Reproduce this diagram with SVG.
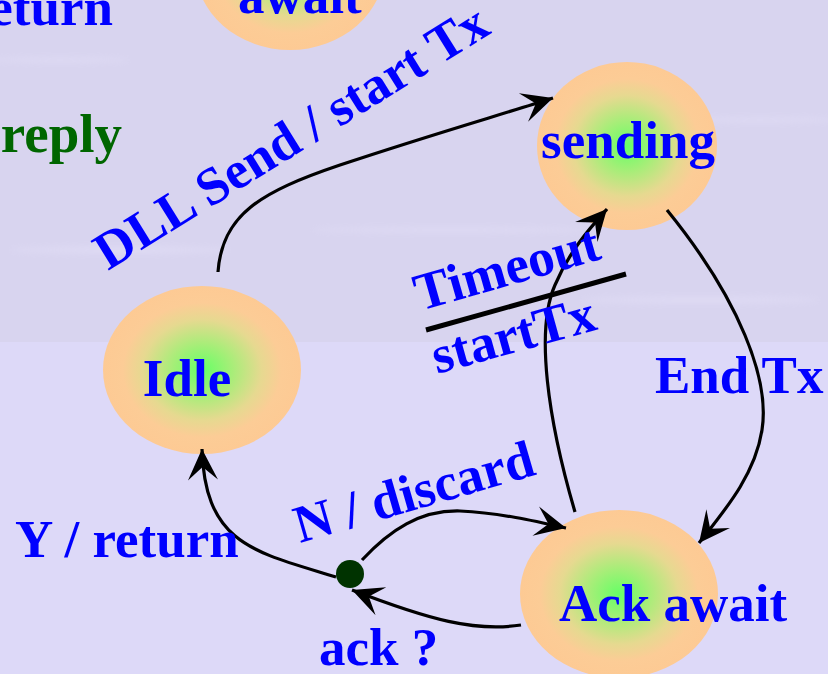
<svg xmlns="http://www.w3.org/2000/svg" width="828" height="674" viewBox="0 0 828 674">
<style>
.lbl{font-family:"Liberation Serif","Times New Roman",serif;font-weight:bold;font-size:53px;fill:#0000ff}
.grn{fill:#006600;font-size:55px}
.edge{fill:none;stroke:#000;stroke-width:3.2}
.state{fill:url(#nodeGrad)}
</style>
<defs>
<radialGradient id="nodeGrad" cx="0.5" cy="0.5" r="0.5">
<stop offset="0" stop-color="#66ff66"/>
<stop offset="0.3" stop-color="#a6ee78"/>
<stop offset="0.6" stop-color="#e6d990"/>
<stop offset="0.8" stop-color="#fccc96"/>
<stop offset="1" stop-color="#fdca94"/>
</radialGradient>
<marker id="arr" viewBox="-34 -18 36 36" refX="0" refY="0" markerWidth="36" markerHeight="36" markerUnits="userSpaceOnUse" orient="auto">
<path d="M0,0 L-31,-15 L-18,0 L-31,15 Z" fill="#000"/>
</marker>
<filter id="soft" x="-10%" y="-50%" width="120%" height="200%"><feGaussianBlur stdDeviation="3"/></filter>
</defs>
<rect x="0" y="0" width="828" height="674" fill="#ddd9f8"/>
<rect x="0" y="0" width="828" height="342" fill="#d8d4ef"/>
<g opacity="0.25" filter="url(#soft)" fill="#eeeaff">
<ellipse cx="120" cy="250" rx="110" ry="4"/>
<ellipse cx="700" cy="300" rx="120" ry="4"/>
<ellipse cx="450" cy="230" rx="140" ry="3"/>
<ellipse cx="760" cy="120" rx="80" ry="3"/>
<ellipse cx="60" cy="60" rx="70" ry="3"/>
</g>

<g id="node-top">
<ellipse class="state" cx="290" cy="-34" rx="95" ry="84"/>
<text class="lbl" x="238" y="13">await</text>
</g>
<g id="label-top-return"><text class="lbl" x="113" y="25" text-anchor="end">eturn</text></g>
<g id="label-reply"><text class="lbl grn" x="122" y="152" text-anchor="end">reply</text></g>

<g id="node-sending">
<ellipse class="state" cx="627" cy="146" rx="90" ry="84"/>
<text class="lbl" x="628" y="158" text-anchor="middle">sending</text>
</g>
<g id="node-idle">
<ellipse class="state" cx="202" cy="370" rx="99" ry="84"/>
<text class="lbl" x="187" y="396" text-anchor="middle">Idle</text>
</g>
<g id="node-ack">
<ellipse class="state" cx="619" cy="594" rx="99" ry="84"/>
<text class="lbl" x="673" y="621" text-anchor="middle">Ack await</text>
</g>
<g id="node-choice">
<circle cx="350" cy="574" r="14" fill="#003300"/>
</g>

<g id="connectors">
<path class="edge" marker-end="url(#arr)" d="M218,272 C222,215 260,192 340,165 C430,135 500,115 553,98"/>
<path class="edge" marker-end="url(#arr)" d="M667,210 C740,300 770,380 762,430 C755,475 725,510 699,543"/>
<path class="edge" marker-end="url(#arr)" d="M575,512 C548,420 535,330 555,285 C570,250 590,228 607,209"/>
<path class="edge" marker-end="url(#arr)" d="M362,560 C390,530 420,510 460,511 C500,513 535,521 566,528"/>
<path class="edge" marker-end="url(#arr)" d="M521,625 C475,632 430,620 352,590"/>
<path class="edge" marker-end="url(#arr)" d="M336,577 C255,552 205,545 202,449"/>
<line x1="426" y1="330" x2="626" y2="274" stroke="#000" stroke-width="5"/>
</g>

<g id="edge-labels">
<text class="lbl" transform="translate(108,271) rotate(-31.8)">DLL Send / start Tx</text>
<text class="lbl" transform="translate(420,311) rotate(-16)">Timeout</text>
<text class="lbl" transform="translate(437,374) rotate(-15.5)">startTx</text>
<text class="lbl" x="655" y="393">End Tx</text>
<text class="lbl" transform="translate(300,543) rotate(-16.1)">N / discard</text>
<text class="lbl" x="15" y="557">Y / return</text>
<text class="lbl" x="319" y="665">ack ?</text>
</g>
</svg>
